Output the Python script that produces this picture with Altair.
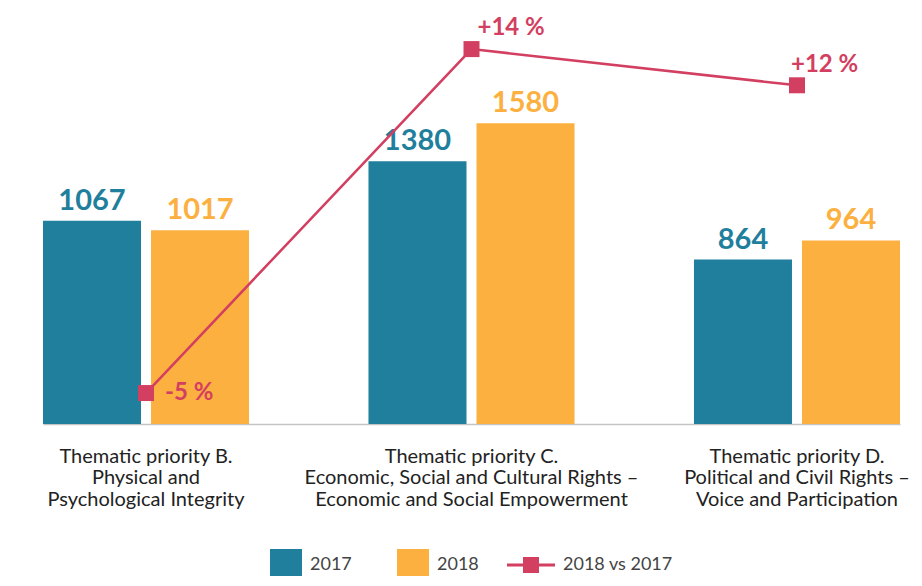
import altair as alt
import pandas as pd

categories = [
    "Thematic priority B.|Physical and|Psychological Integrity",
    "Thematic priority C.|Economic, Social and Cultural Rights –|Economic and Social Empowerment",
    "Thematic priority D.|Political and Civil Rights –|Voice and Participation",
]
years = ["2017", "2018"]
values_2017 = [1067, 1380, 864]
values_2018 = [1017, 1580, 964]
change_pct = [-5, 14, 12]
change_labels = ["-5 %", "+14 %", "+12 %"]
series_name = "2018 vs 2017"

TEAL = "#1f7f9c"
ORANGE = "#fbb040"
CRIMSON = "#d33f60"
FONT = "Lato"

bars_df = pd.DataFrame({
    "category": categories * 2,
    "year": ["2017"] * 3 + ["2018"] * 3,
    "value": values_2017 + values_2018,
})
line_df = pd.DataFrame({
    "category": categories,
    "pct": change_pct,
    "label": change_labels,
    "series": [series_name] * 3,
})

x_enc = alt.X(
    "category:N", sort=categories,
    scale=alt.Scale(range=[35, 892], paddingInner=0.367, paddingOuter=0),
    axis=alt.Axis(title=None, labelAngle=0, labelExpr="split(datum.label, '|')",
                  ticks=False, domainColor="#c4c4c4", domainWidth=1.5,
                  labelFont=FONT, labelFontSize=20, labelColor="#222222",
                  labelLineHeight=21.7, labelPadding=22, labelLimit=0),
)
x_off = alt.XOffset("year:N", sort=years, scale=alt.Scale(paddingInner=0.0926, paddingOuter=0))
y_bar = alt.Y("value:Q", scale=alt.Scale(domain=[0, 2185], nice=False), axis=None)
y_pct = alt.Y("pct:Q", scale=alt.Scale(domain=[-6.71, 16.27], nice=False, zero=False), axis=None)

bars = alt.Chart(bars_df).mark_bar().encode(
    x=x_enc, xOffset=x_off, y=y_bar,
    color=alt.Color("year:N", scale=alt.Scale(domain=years, range=[TEAL, ORANGE]),
                    legend=alt.Legend(orient="none", legendX=262, legendY=541, direction="horizontal",
                                      title=None, symbolType="square", symbolSize=1024,
                                      symbolStrokeWidth=0, labelFont=FONT, labelFontSize=18,
                                      labelColor="#444444", labelOffset=8, columnPadding=45, padding=0)),
)
bar_text = alt.Chart(bars_df).mark_text(
    font=FONT, fontWeight="bold", fontSize=29, dy=-11, baseline="alphabetic"
).encode(
    x=x_enc, xOffset=x_off, y=y_bar,
    text=alt.Text("value:Q", format="d"),
    color=alt.condition("datum.year == '2017'", alt.value(TEAL), alt.value(ORANGE)),
)
bar_layer = alt.layer(bars, bar_text)

line = alt.Chart(line_df).mark_line(color=CRIMSON, strokeWidth=2.5).encode(x=x_enc, y=y_pct)
points = alt.Chart(line_df).mark_point(shape="square", filled=True, size=256, opacity=1).encode(
    x=x_enc, y=y_pct,
    color=alt.Color("series:N", scale=alt.Scale(domain=[series_name], range=[CRIMSON]),
                    legend=alt.Legend(orient="none", legendX=499, legendY=533, title=None,
                                      symbolType="M-1,-0.0625H1V0.0625H-1Z M-0.333,-0.333H0.333V0.333H-0.333Z",
                                      symbolSize=2304, symbolStrokeWidth=0, labelFont=FONT,
                                      labelFontSize=18, labelColor="#444444", labelOffset=8, padding=0)),
)
offsets = [(19, 7), (6, -14), (-6, -13)]
pct_texts = []
for i, (dx, dy) in enumerate(offsets):
    pct_texts.append(
        alt.Chart(line_df).transform_filter(alt.datum.category == categories[i]).mark_text(
            align="left", baseline="alphabetic", dx=dx, dy=dy, font=FONT, fontWeight="bold",
            fontSize=24, color=CRIMSON
        ).encode(x=x_enc, y=y_pct, text="label:N")
    )
line_layer = alt.layer(line, points, *pct_texts)

chart = alt.layer(bar_layer, line_layer).resolve_scale(
    y="independent", color="independent"
).properties(
    width=906, height=416,
    autosize=alt.AutoSizeParams(type="none"),
    padding={"left": 0, "top": 0, "right": 0, "bottom": 152},
).configure(font=FONT).configure_view(stroke=None)

chart.save("out.html", embed_options={"renderer": "svg", "actions": False})
